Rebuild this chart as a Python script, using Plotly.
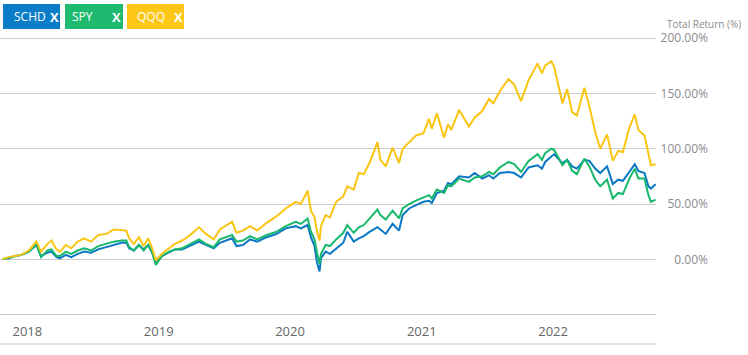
import plotly.graph_objects as go

dates = [
    "2017-10-23", "2017-11-10", "2017-11-28", "2017-12-15", "2018-01-05", "2018-01-26",
    "2018-02-08", "2018-02-26", "2018-03-09", "2018-03-23", "2018-04-02", "2018-04-18",
    "2018-05-03", "2018-05-21", "2018-06-08", "2018-06-27", "2018-07-17", "2018-08-09",
    "2018-08-29", "2018-09-20", "2018-10-03", "2018-10-11", "2018-10-24", "2018-11-07",
    "2018-11-20", "2018-12-03", "2018-12-14", "2018-12-24", "2019-01-10", "2019-01-30",
    "2019-02-15", "2019-03-07", "2019-03-26", "2019-04-23", "2019-05-12", "2019-06-03",
    "2019-06-20", "2019-07-24", "2019-08-05", "2019-08-23", "2019-09-12", "2019-10-02",
    "2019-10-28", "2019-11-25", "2019-12-20", "2020-01-17", "2020-01-31", "2020-02-19",
    "2020-02-28", "2020-03-09", "2020-03-16", "2020-03-23", "2020-03-27", "2020-04-09",
    "2020-04-21", "2020-05-08", "2020-05-28", "2020-06-08", "2020-06-26", "2020-07-10",
    "2020-07-24", "2020-08-10", "2020-08-31", "2020-09-08", "2020-09-23", "2020-10-12",
    "2020-10-30", "2020-11-09", "2020-11-27", "2020-12-16", "2021-01-06", "2021-01-21",
    "2021-01-29", "2021-02-12", "2021-03-04", "2021-03-15", "2021-03-24", "2021-04-15",
    "2021-05-12", "2021-05-28", "2021-06-18", "2021-07-07", "2021-07-19", "2021-08-06",
    "2021-08-30", "2021-09-15", "2021-10-04", "2021-10-25", "2021-11-19", "2021-12-01",
    "2021-12-10", "2021-12-27", "2022-01-04", "2022-01-27", "2022-02-09", "2022-02-23",
    "2022-03-08", "2022-03-29", "2022-04-12", "2022-04-28", "2022-05-12", "2022-05-31",
    "2022-06-16", "2022-07-01", "2022-07-14", "2022-08-01", "2022-08-16", "2022-08-26",
    "2022-09-12", "2022-09-23", "2022-09-30", "2022-10-13",
]

qqq = [
    0, 2, 3, 4, 8, 16, 7, 14, 17, 9, 7, 13, 10, 16, 19, 16, 22, 23, 27, 26, 26, 19, 14, 20,
    12, 19, 10, -1, 5, 10, 14, 17, 21, 29, 23, 18, 27, 34, 24, 26, 30, 26, 33, 39, 46, 52,
    50, 62, 44, 38, 25, 17, 30, 40, 38, 52, 57, 66, 63, 78, 77, 88, 106, 90, 84, 101, 87,
    100, 106, 112, 114, 127, 118, 132, 110, 122, 117, 135, 120, 128, 134, 145, 141, 152,
    163, 158, 143, 162, 177, 168, 175, 179, 174, 141, 154, 133, 130, 155, 138, 115, 100,
    113, 89, 98, 97, 119, 131, 117, 112, 95, 85, 86,
]

spy = [
    0, 1.5, 3, 4, 7, 14, 2, 8, 9, 3, 3, 7, 5, 8, 10, 8, 12, 14, 16, 17, 17, 11, 8, 13, 8,
    13, 6, -5, 3, 7, 9, 10, 13, 18, 14, 11, 18, 22, 16, 17, 21, 18, 22, 25, 30, 34, 32, 37,
    25, 18, 6, -4, 5, 13, 12, 18, 24, 31, 24, 29, 31, 37, 45, 40, 36, 44, 37, 46, 50, 53,
    56, 58, 55, 63, 60, 67, 66, 73, 70, 74, 75, 79, 77, 83, 88, 86, 79, 89, 95, 90, 96, 100,
    99, 85, 90, 80, 77, 91, 84, 72, 66, 72, 55, 60, 59, 73, 82, 73, 73, 58, 52, 54,
]

schd = [
    0, 1, 3, 4, 7, 13, 3, 6, 7, 2, 1, 4, 2, 5, 7, 6, 9, 11, 13, 15, 15, 10, 8, 13, 9, 13,
    6, -3, 3, 6, 9, 9, 12, 16, 13, 10, 15, 19, 12, 13, 18, 16, 20, 23, 28, 30, 28, 31, 20,
    12, -3, -11, 1, 7, 5, 10, 15, 25, 16, 19, 21, 25, 29, 27, 23, 32, 26, 40, 46, 49, 52,
    53, 51, 60, 62, 69, 68, 75, 74, 78, 73, 76, 73, 78, 79, 78, 74, 83, 85, 82, 88, 93, 95,
    87, 90, 84, 82, 90, 89, 82, 78, 84, 68, 72, 71, 79, 86, 80, 78, 66, 64, 68,
]

series_names = ["SCHD", "SPY", "QQQ"]
series_values = [schd, spy, qqq]
line_colors = ["#0a78c4", "#17b86b", "#f9c512"]
box_colors = ["#0b7dc8", "#1dba6f", "#fdc718"]

y_ticks = [0, 50, 100, 150, 200]
y_tick_labels = ["0.00%", "50.00%", "100.00%", "150.00%", "200.00%"]

W, H = 748, 355
ML, MR, MT, MB = 0, 5, 0, 41
PW = W - ML - MR
PH = H - MT - MB


def px(x):
    return (x - ML) / PW


def py(y):
    return (H - MB - y) / PH


fig = go.Figure()
for name, vals, col in zip(series_names, series_values, line_colors):
    fig.add_trace(go.Scatter(
        x=dates, y=vals, mode="lines", name=name,
        line=dict(color=col, width=2), hoverinfo="skip",
    ))

fig.update_layout(
    width=W, height=H,
    margin=dict(l=ML, r=MR, t=MT, b=MB, pad=0),
    paper_bgcolor="white", plot_bgcolor="white",
    showlegend=False,
    font=dict(family="Open Sans, Noto Sans, sans-serif"),
    xaxis=dict(
        domain=[0, px(656)],
        type="date",
        range=["2017-10-17", "2022-10-14"],
        tickmode="array",
        tickvals=["2018-01-01", "2019-01-01", "2020-01-01", "2021-01-01", "2022-01-01"],
        ticktext=["2018", "2019", "2020", "2021", "2022"],
        showgrid=False, zeroline=False,
        showline=True, linecolor="#c8c8c8", linewidth=1,
        ticks="", tickfont=dict(size=13, color="#666666"),
        ticklabelstandoff=5,
    ),
    yaxis=dict(
        range=[-49.4, 234.4],
        tickmode="array", tickvals=y_ticks, ticktext=y_tick_labels,
        side="right", anchor="free", position=px(711),
        ticklabelposition="inside",
        showgrid=True, gridcolor="#cccccc", gridwidth=1,
        zeroline=False, showline=False, ticks="",
        tickfont=dict(size=12, color="#8c8c8c"),
    ),
)

# bottom border line under the year labels
fig.add_shape(type="line", xref="paper", yref="paper",
              x0=0, x1=px(656), y0=py(344), y1=py(344),
              line=dict(color="#c8c8c8", width=1))

# axis title
fig.add_annotation(xref="paper", yref="paper", x=px(743), y=py(24),
                   xanchor="right", yanchor="middle", showarrow=False,
                   text="Total Return (%)", font=dict(size=10, color="#8c8c8c"))

# legend chips
chips = [(3, 60, 12, 48), (65, 123, 70, 110), (127, 184, 135, 172)]
for (x0, x1, tx, xx), name, col in zip(chips, series_names, box_colors):
    fig.add_shape(type="rect", xref="paper", yref="paper",
                  x0=px(x0), x1=px(x1), y0=py(29), y1=py(4),
                  fillcolor=col, line=dict(width=0), layer="above")
    fig.add_annotation(xref="paper", yref="paper", x=px(tx), y=py(17),
                       xanchor="left", yanchor="middle", showarrow=False,
                       text=name, font=dict(size=12, color="white"))
    fig.add_annotation(xref="paper", yref="paper", x=px(xx), y=py(17),
                       xanchor="left", yanchor="middle", showarrow=False,
                       text="<b>X</b>", font=dict(size=13, color="white"))

fig.write_html("out.html", config={"displayModeBar": False},
               post_script="document.body.style.margin='0';document.body.style.padding='0';")
